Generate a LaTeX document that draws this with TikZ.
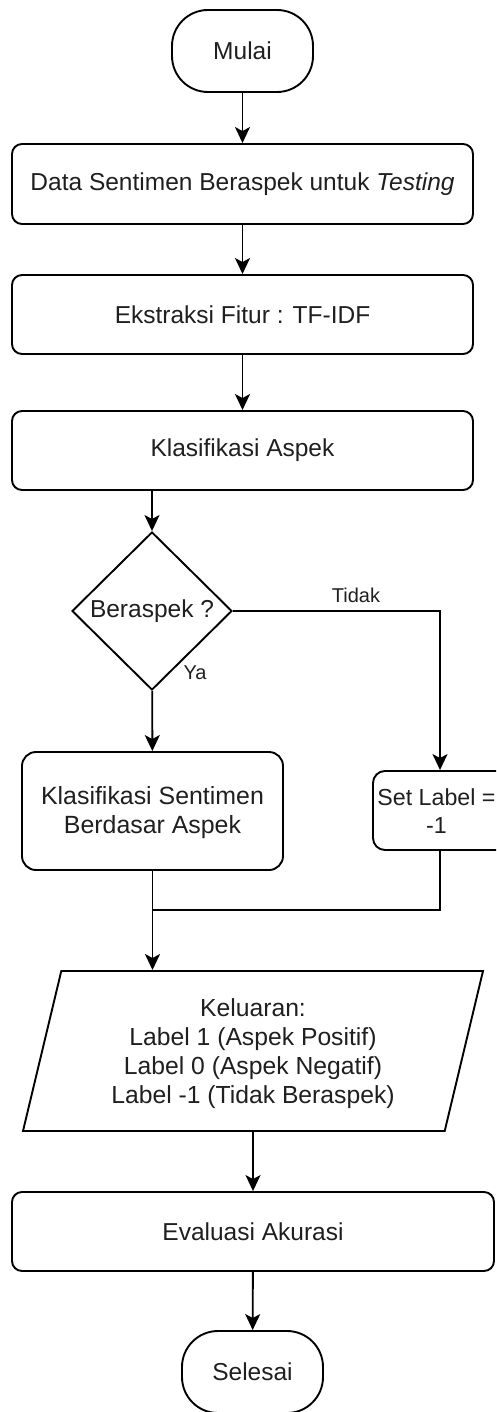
\documentclass[tikz,border=0pt]{standalone}
\usepackage{fontspec}
\setmainfont{Liberation Sans}
\usetikzlibrary{shapes.geometric,arrows.meta}
\begin{document}
\begin{tikzpicture}[x=1pt,y=-1pt,
 base/.style={draw=black, line width=1.9pt, inner sep=0pt, align=center, text=black!88, font=\fontsize{24.5}{26}\selectfont},
 box/.style={base, rectangle, rounded corners=10pt},
 term/.style={base, rectangle, rounded corners=36pt, minimum width=141pt, minimum height=82pt},
 arr/.style={draw=black, line width=1.9pt, -{Stealth[length=16pt,width=15pt,inset=4pt]}},
 plain/.style={draw=black, line width=1.9pt},
 lbl/.style={font=\fontsize{20}{22}\selectfont, inner sep=0pt, text=black!88}
]
\useasboundingbox (0,0) rectangle (496,1412);
\clip (0,0) rectangle (496,1412);

\node[term] (start) at (242.5,51) {Mulai};
\node[box, minimum width=461pt, minimum height=80pt] (b1) at (242.5,184) {Data Sentimen Beraspek untuk \textit{Testing}};
\node[box, minimum width=461pt, minimum height=79pt] (b2) at (242.5,314.5) {Ekstraksi Fitur : TF-IDF};
\node[box, minimum width=461pt, minimum height=79pt] (b3) at (242.5,450.5) {Klasifikasi Aspek};
\node[base, diamond, minimum width=160pt, minimum height=158pt] (dec) at (152,611) {Beraspek ?};
\node[box, rounded corners=14pt, minimum width=261pt, minimum height=118pt, font=\fontsize{24.9}{28.3}\selectfont] (ks) at (152.5,811) {\rule{0pt}{22pt}Klasifikasi Sentimen\\Berdasar Aspek\rule[-6pt]{0pt}{6pt}};
\node[box, rounded corners=12pt, minimum width=140pt, minimum height=79pt, font=\fontsize{23.2}{28}\selectfont] (sl) at (443,810.5) {\rule{0pt}{23pt}Set Label =\hspace*{13pt}\\-1\rule[-6pt]{0pt}{6pt}\hspace*{13pt}};
\node[base, trapezium, trapezium left angle=76.3, trapezium right angle=103.7, trapezium stretches=true, minimum width=462pt, minimum height=160pt, font=\fontsize{24.7}{28.7}\selectfont] (out) at (253,1051) {\rule{0pt}{24pt}Keluaran:\\Label 1 (Aspek Positif)\\Label 0 (Aspek Negatif)\\Label -1 (Tidak Beraspek)\rule[-6pt]{0pt}{6pt}};
\node[box, minimum width=482pt, minimum height=79pt] (ev) at (253,1231.5) {Evaluasi Akurasi};
\node[term] (end) at (252.5,1372) {Selesai};

\node[lbl] (tidak) at (356,595) {Tidak};
\node[lbl] (ya) at (195,673) {Ya};

\draw[arr] (start) -- (b1);
\draw[arr] (b1) -- (b2);
\draw[arr] (b2) -- (b3);
\draw[arr] (b3.south -| dec.north) -- (dec.north);
\draw[arr] (dec) -- (ks);
\draw[arr] (dec.east) -| ([xshift=-3pt]sl.north);
\coordinate (mj) at (152.5,910);
\draw[plain] ([xshift=-3pt]sl.south) |- (mj);
\draw[arr] (ks.south) -- (ks.south |- out.north);
\draw[arr] (out.south) -- (ev.north);
\draw[arr] (ev) -- (end);
\end{tikzpicture}
\end{document}
